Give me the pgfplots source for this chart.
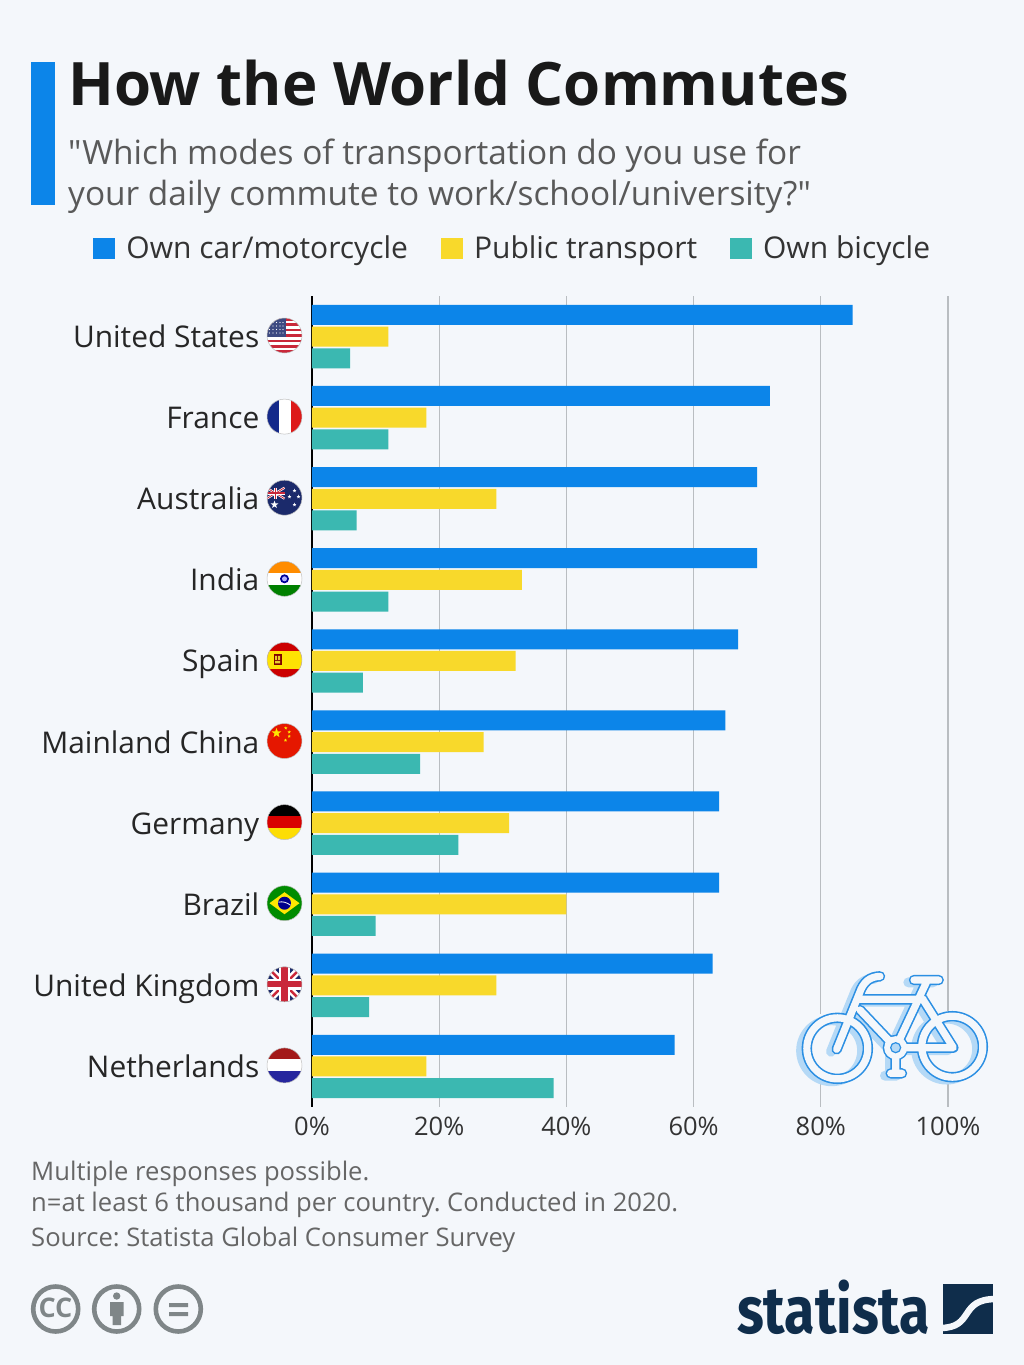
\documentclass[border=0pt]{standalone}
\usepackage{fontspec}
\setmainfont{Open Sans}
\newfontfamily\subf{Open Sans}
\newfontfamily\logofont{Fira Sans}
\usepackage{pgfplots}
\pgfplotsset{compat=1.18}
\usetikzlibrary{shapes.geometric}

\definecolor{bg}{HTML}{F4F7FB}
\definecolor{stblue}{HTML}{0C85E9}
\definecolor{styellow}{HTML}{F8D92B}
\definecolor{stteal}{HTML}{3BB8B1}
\definecolor{bikeshadow}{HTML}{B5D9F6}
\definecolor{bikeline}{HTML}{2B8FE3}
\definecolor{logonavy}{HTML}{0F2D4B}
\definecolor{ccgrey}{HTML}{7F8688}
\definecolor{gridgrey}{HTML}{B9BDC1}
\definecolor{flagnavy}{HTML}{1B2A6B}
\definecolor{flagblue}{HTML}{14298A}
\definecolor{flagred}{HTML}{C9283A}

\newcommand\fs[1]{\fontsize{#1pt}{#1pt}\selectfont}

% round flag at pixel position, y goes down
\newcommand\flag[2]{%
  \begin{scope}[shift={(284.5,#1)}]
    \begin{scope}
      \clip (0,0) circle (17.5pt);
      #2
    \end{scope}
    \draw[black!25,line width=0.5pt] (0,0) circle (17.5pt);
  \end{scope}}
\newcommand\wstar[4]{\node[star,star points=5,star point ratio=2.4,fill=#4,inner sep=0pt,minimum size=#3pt] at (#1,#2) {};}

% union jack in the box -w..w, -h..h
\newcommand\ujack[2]{%
  \fill[flagnavy] (-#1,-#2) rectangle (#1,#2);
  \draw[white,line width=0.2*2*#2 pt] (-#1,-#2) -- (#1,#2) (-#1,#2) -- (#1,-#2);
  \draw[flagred,line width=0.07*2*#2 pt] (-#1,-#2) -- (#1,#2) (-#1,#2) -- (#1,-#2);
  \draw[white,line width=0.3*2*#2 pt] (-#1,0) -- (#1,0) (0,-#2) -- (0,#2);
  \draw[flagred,line width=0.17*2*#2 pt] (-#1,0) -- (#1,0) (0,-#2) -- (0,#2);}

% bicycle skeleton, coordinates as in a 3x crop at (780,950)
\newcommand\bikepath[1]{%
  \draw[#1,line cap=round,line join=round]
    (172,295) circle (30.5pt)
    (517,290) circle (30.5pt)
    (170,298) -- (238,130) .. controls (250,95) and (270,80) .. (300,79)
    (240,148) -- (430,148)
    (240,180) -- (347,293) -- (520,293) -- (430,150)
    (347,293) -- (440,95)
    (402,90) -- (476,90)
    (347,293) -- (347,370)
    (332,370) -- (366,370);}

\pgfplotsset{barleg/.style={legend image code/.code={\fill[##1] (0pt,-10.5pt) rectangle (22pt,10.5pt);}}}

\begin{document}
\frenchspacing
\begin{tikzpicture}[x=1pt,y=-1pt]
\fill[bg] (0,0) rectangle (1024,1365);

\fill[stblue] (31,62) rectangle (55,205);
\node[anchor=base west,inner sep=0pt,text=black!90] at (68,105) {\fs{59.9}\bfseries How the World Commutes};
\node[anchor=base west,inner sep=0pt,text=black!65] at (68,164) {\subf\fs{33.4}"Which modes of transportation do you use for};
\node[anchor=base west,inner sep=0pt,text=black!65] at (68,205) {\subf\fs{33.4}your daily commute to work/school/university?"};

\begin{axis}[
    at={(312pt,-1107pt)},
    anchor=south west,
    scale only axis,
    width=636pt,
    height=811pt,
    xbar,
    y dir=reverse,
    xmin=0, xmax=100,
    ymin=-0.5, ymax=9.5,
    bar width=20pt,
    axis x line*=bottom,
    axis y line*=left,
    x axis line style={draw=none},
    y axis line style={black,line width=1.5pt},
    major tick length=0pt,
    xmajorgrids,
    major grid style={gridgrey,line width=1.2pt},
    xtick={0,20,40,60,80,100},
    xticklabels={0\%,20\%,40\%,60\%,80\%,100\%},
    xticklabel style={font=\fs{25.5},text=black!80,anchor=base,inner sep=0pt,yshift=-28pt},
    ytick={0,1,2,3,4,5,6,7,8,9},
    yticklabels={United States,France,Australia,India,Spain,Mainland China,Germany,Brazil,United Kingdom,Netherlands},
    yticklabel style={font=\fs{29.9},text=black!85,anchor=base east,inner sep=0pt,xshift=-52.5pt,yshift=-11pt},
    legend columns=3,
    legend style={at={(-0.344,1.059)},anchor=west,draw=none,fill=none,
      font=\fs{30},text=black!80,inner sep=0pt,
      nodes={inner xsep=11pt,inner ysep=0pt},
      /tikz/every even column/.append style={column sep=22pt}},
]
\addplot[barleg,fill=stblue,draw=none,bar shift=21.7pt] coordinates {
  (85,0) (72,1) (70,2) (70,3) (67,4) (65,5) (64,6) (64,7) (63,8) (57,9)};
\addlegendentry{Own car/motorcycle}
\addplot[barleg,fill=styellow,draw=none,bar shift=0pt] coordinates {
  (12,0) (18,1) (29,2) (33,3) (32,4) (27,5) (31,6) (40,7) (29,8) (18,9)};
\addlegendentry{Public transport}
\addplot[barleg,fill=stteal,draw=none,bar shift=-21.7pt] coordinates {
  (6,0) (12,1) (7,2) (12,3) (8,4) (17,5) (23,6) (10,7) (9,8) (38,9)};
\addlegendentry{Own bicycle}
\end{axis}

% flags
\flag{335.5}{%
  \fill[white] (-18,-18) rectangle (18,18);
  \foreach \i in {1,3,5,7,9,11,13} {\fill[flagred] (-18,{-17.5+(\i-1)*2.69}) rectangle (18,{-17.5+\i*2.69});}
  \fill[flagnavy!85!white] (-18,-18) rectangle (1,1);
  \foreach \a in {-15,-11.5,-8,-4.5,-1.5} \foreach \b in {-13,-9.5,-6,-2.5} {\fill[white] (\a,\b) circle (0.7pt);}}
\flag{416.6}{%
  \fill[flagblue] (-18,-18) rectangle (-6,18);
  \fill[white] (-6,-18) rectangle (6,18);
  \fill[red!85!black!90!white] (6,-18) rectangle (18,18);}
\flag{497.7}{%
  \fill[flagnavy] (-18,-18) rectangle (18,18);
  \begin{scope}[shift={(-9,-4.5)}]\ujack{9}{5.5}\end{scope}
  \wstar{-10}{7}{8}{white}
  \wstar{5}{-1}{4}{white}
  \wstar{10}{-7}{4}{white}
  \wstar{14}{-1}{4}{white}
  \wstar{10}{7}{4}{white}}
\flag{578.8}{%
  \fill[orange!90!yellow] (-18,-18) rectangle (18,-6);
  \fill[white] (-18,-6) rectangle (18,6);
  \fill[green!50!black] (-18,6) rectangle (18,18);
  \fill[blue!60!black] (0,0) circle (4.5pt);
  \fill[white!70!blue] (0,0) circle (2.5pt);}
\flag{659.9}{%
  \fill[red!80!black] (-18,-18) rectangle (18,18);
  \fill[yellow!85!orange] (-18,-9) rectangle (18,9);
  \fill[red!50!black] (-11,-5.5) rectangle (-3,5.5);
  \fill[yellow!60!brown] (-9.5,-4) rectangle (-7.5,0) (-6.5,-4) rectangle (-4.5,0) (-9.5,1) rectangle (-4.5,3.5);}
\flag{741}{%
  \fill[red!80!orange!90!black] (-18,-18) rectangle (18,18);
  \wstar{-8}{-8}{10}{yellow!90!orange}
  \wstar{1.3}{-13}{3.5}{yellow!90!orange}
  \wstar{4.7}{-9}{3.5}{yellow!90!orange}
  \wstar{4.7}{-4.7}{3.5}{yellow!90!orange}
  \wstar{1}{-0.7}{3.5}{yellow!90!orange}}
\flag{822.1}{%
  \fill[black] (-18,-18) rectangle (18,-6);
  \fill[red!85!black] (-18,-6) rectangle (18,6);
  \fill[yellow!80!orange] (-18,6) rectangle (18,18);}
\flag{903.2}{%
  \fill[green!55!black] (-18,-18) rectangle (18,18);
  \fill[yellow!90!orange] (-15,0) -- (0,-11) -- (15,0) -- (0,11) -- cycle;
  \fill[blue!55!black] (0,0) circle (6.5pt);
  \draw[white,line width=0.8pt] (-6,-1) .. controls (-2,-2) and (2,-1) .. (6,2);}
\flag{984.3}{\ujack{18}{18}}
\flag{1065.4}{%
  \fill[red!60!black!90!white] (-18,-18) rectangle (18,-6);
  \fill[white] (-18,-6) rectangle (18,6);
  \fill[blue!55!black!85!white] (-18,6) rectangle (18,18);}

% bicycle
\begin{scope}[shift={(780,950)},x=0.33333pt,y=-0.33333pt]
  \fill[bg] (155,295) circle (36pt) (517,290) circle (36pt);
  \begin{scope}[shift={(-17,7)}]\bikepath{bikeshadow,line width=10pt}\end{scope}
  \bikepath{bikeline,line width=10.4pt}
  \fill[bikeline] (347,293) circle (13pt);
  \bikepath{bg,line width=7.2pt}
  \fill[bg] (347,293) circle (11.5pt);
  \draw[bikeline,line width=1.2pt,fill=bikeshadow] (347,293) circle (5pt);
\end{scope}

% footer
\node[anchor=base west,inner sep=0pt,text=black!60] at (31,1180) {\fs{25.6}Multiple responses possible.};
\node[anchor=base west,inner sep=0pt,text=black!60] at (31,1211) {\fs{25.6}n=at least 6 thousand per country. Conducted in 2020.};
\node[anchor=base west,inner sep=0pt,text=black!60] at (31,1246) {\fs{25.6}Source: Statista Global Consumer Survey};

% cc icons
\draw[ccgrey,line width=4.6pt] (55.7,1309) circle (22.5pt) (116.7,1309) circle (22.5pt) (178.3,1309) circle (22.5pt);
\node[text=ccgrey,inner sep=0pt] at (55.5,1308) {\fs{27}\bfseries CC};
\fill[ccgrey] (116.7,1296) circle (3.7pt);
\fill[ccgrey] (110,1302) rectangle (123.5,1316) (112.5,1316) rectangle (121,1325);
\fill[ccgrey] (169,1303) rectangle (188,1307) (169,1312) rectangle (188,1316);

% logo
\node[anchor=base west,inner sep=0pt,text=logonavy,xscale=0.84] at (737,1333) {\fs{66}\logofont\bfseries statista};
\fill[logonavy] (942.7,1284) rectangle (992.7,1333.5);
\draw[bg,line width=6.5pt] (940,1328) .. controls (975,1328) and (958,1299) .. (996,1299);
\end{tikzpicture}
\end{document}
